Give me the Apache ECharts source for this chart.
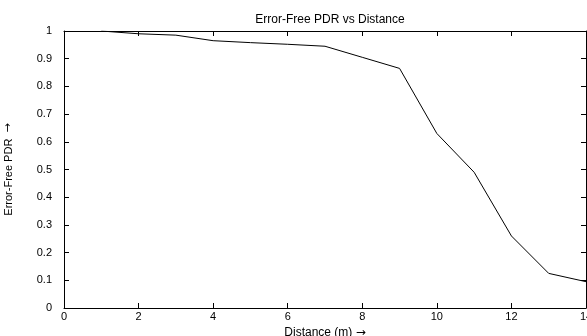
<!DOCTYPE html>
<html>
<head>
<meta charset="utf-8">
<script src="https://cdn.jsdelivr.net/npm/echarts@6/dist/echarts.min.js"></script>
<style>html,body{margin:0;padding:0;background:#fff}#c{width:587px;height:336px}</style>
</head>
<body>
<div id="c"></div>
<script>
var distance = [1, 2, 3, 4, 5, 6, 7, 8, 9, 10, 11, 12, 13, 14];
var pdr = [1.0, 0.99, 0.985, 0.965, 0.958, 0.952, 0.945, 0.905, 0.865, 0.63, 0.49, 0.26, 0.125, 0.095];
var xTicks = [0, 2, 4, 6, 8, 10, 12, 14];
var yTicks = [0, 0.1, 0.2, 0.3, 0.4, 0.5, 0.6, 0.7, 0.8, 0.9, 1];
var titleText = 'Error-Free PDR vs Distance';
var xNameText = 'Distance (m) ';
var yNameText = 'Error-Free PDR  ';
var arrow = '\u2192';

var font = 'Liberation Sans, Arial, sans-serif';
var narrow = 'Liberation Sans Narrow, Liberation Sans, Arial, sans-serif';
var chart = echarts.init(document.getElementById('c'), null, {renderer: 'canvas'});
var points = distance.map(function (d, i) { return [d, pdr[i]]; });
var axisLineStyle = {show: true, onZero: false, lineStyle: {color: '#000', width: 1}};
var tickStyle = {show: true, inside: true, length: 5, lineStyle: {color: '#000', width: 1}};

chart.setOption({
  animation: false,
  backgroundColor: '#fff',
  title: {
    text: titleText, left: 325, top: 9, textAlign: 'center',
    textStyle: {fontFamily: font, fontSize: 12, fontWeight: 'normal', color: '#000'}
  },
  grid: {left: 64, right: 1, top: 31, bottom: 28, show: false, containLabel: false, outerBoundsMode: 'none'},
  xAxis: [{
    type: 'value', min: xTicks[0], max: xTicks[xTicks.length - 1], interval: 2,
    position: 'bottom',
    name: '{t|' + xNameText + '}{a|' + arrow + '}', nameLocation: 'middle', nameGap: 18,
    nameTextStyle: {
      rich: {
        t: {fontFamily: font, fontSize: 12, color: '#000'},
        a: {fontFamily: 'DejaVu Sans', fontSize: 12, color: '#000'}
      }
    },
    axisLine: axisLineStyle, axisTick: tickStyle,
    axisLabel: {fontFamily: font, fontSize: 11, color: '#000', margin: 3},
    splitLine: {show: false}
  }, {
    type: 'value', min: xTicks[0], max: xTicks[xTicks.length - 1], interval: 2,
    position: 'top',
    axisLine: axisLineStyle, axisTick: tickStyle,
    axisLabel: {show: false}, splitLine: {show: false}
  }],
  yAxis: [{
    type: 'value', min: yTicks[0], max: yTicks[yTicks.length - 1], interval: 0.1,
    position: 'left',
    name: '{t|' + yNameText + '}{a|' + arrow + '}', nameLocation: 'middle', nameGap: 50, nameRotate: 90,
    nameTextStyle: {
      rich: {
        t: {fontFamily: narrow, fontSize: 11, color: '#000'},
        a: {fontFamily: 'DejaVu Sans', fontSize: 11, color: '#000'}
      }
    },
    axisLine: axisLineStyle, axisTick: tickStyle,
    axisLabel: {fontFamily: font, fontSize: 11, color: '#000', margin: 12,
      formatter: function (v) { return String(Math.round(v * 10) / 10); }},
    splitLine: {show: false}
  }, {
    type: 'value', min: yTicks[0], max: yTicks[yTicks.length - 1], interval: 0.1,
    position: 'right',
    axisLine: axisLineStyle, axisTick: tickStyle,
    axisLabel: {show: false}, splitLine: {show: false}
  }],
  series: [{
    type: 'line', data: points, xAxisIndex: 0, yAxisIndex: 0,
    showSymbol: false, symbol: 'none',
    lineStyle: {color: '#000', width: 1}
  }]
});
</script>
</body>
</html>
